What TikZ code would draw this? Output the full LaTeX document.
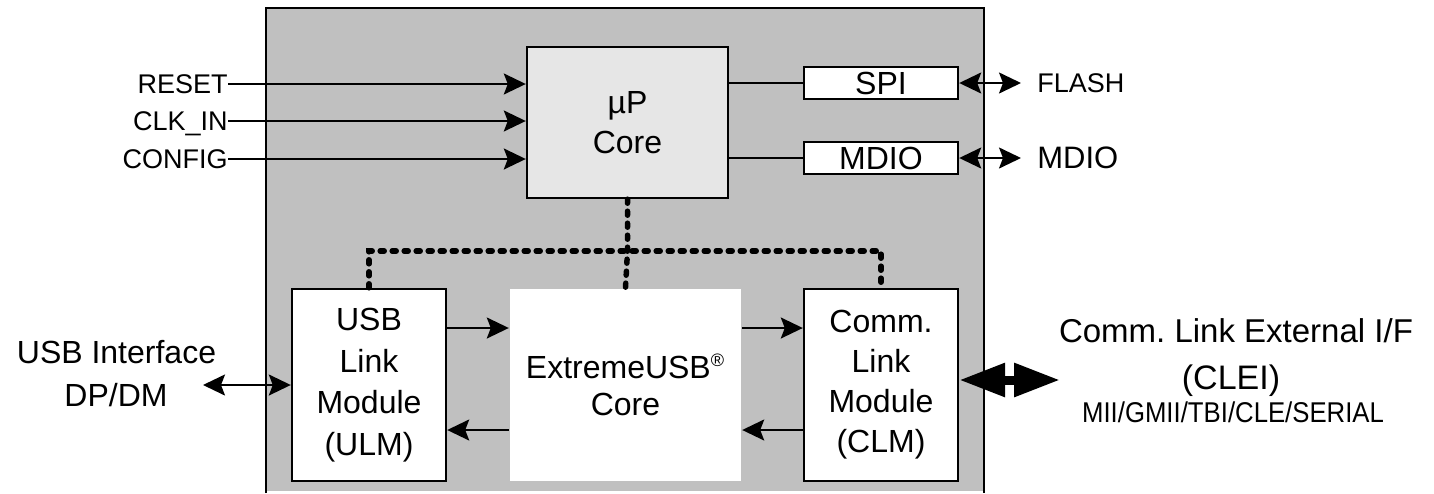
\documentclass[tikz,border=0pt]{standalone}
\usepackage{fontspec}
\setmainfont{Liberation Sans}
\newfontfamily\narrowfont[FakeStretch=0.9]{Liberation Sans}
\usetikzlibrary{arrows.meta}
\definecolor{chipgray}{HTML}{C0C0C0}
\definecolor{coregray}{HTML}{E6E6E6}
\newcommand{\fsz}[2]{\fontsize{#1}{#2}\selectfont}
\frenchspacing
\begin{document}
\begin{tikzpicture}[x=0.5pt,y=-0.5pt,
  box/.style={draw=black, line width=1.2pt, fill=white, inner sep=0pt, align=center},
  lbl/.style={inner sep=0pt, text depth=0pt},
  sig/.style={line width=1pt},
  tip/.style={-{Stealth[length=11pt,width=10.5pt,inset=2pt]}},
  dtip/.style={{Stealth[length=11pt,width=10.5pt,inset=2pt]}-{Stealth[length=11pt,width=10.5pt,inset=2pt]}},
  dotline/.style={line width=2.75pt, line cap=round, dash pattern=on 2pt off 4pt},
  bigarrow/.style={line width=4.5pt, {Triangle[length=23pt,width=16pt]}-{Triangle[length=23pt,width=16pt]}}
]
\useasboundingbox (0,0) rectangle (1434,493);

% chip outline
\fill[chipgray] (266,8) rectangle (984,491);
\draw[line width=1pt] (266,493) -- (266,8) -- (984,8) -- (984,493);

% blocks
\node[box, fill=coregray, minimum width=100.5pt, minimum height=75.5pt, font=\fsz{16}{20}] (up) at (627.5,122.5) {µP\\Core};
\node[box, minimum width=77pt, minimum height=16pt, font=\fsz{16}{18}] (spi) at (881,83) {SPI};
\node[box, minimum width=77pt, minimum height=16pt, font=\fsz{16}{18}] (mdio) at (881,158) {MDIO};
\node[box, minimum width=77pt, minimum height=96pt, font=\fsz{16}{20.8}] (ulm) at (369,385) {USB\\Link\\Module\\(ULM)};
\node[box, draw=none, minimum width=115.5pt, minimum height=96pt, font=\fsz{16}{18.5}] (ext) at (625.5,385) {ExtremeUSB\textsuperscript{\fsz{9}{10}®}\\Core};
\node[box, minimum width=77pt, minimum height=96pt, font=\fsz{16}{20}] (clm) at (881,385) {Comm.\\Link\\Module\\(CLM)};

% left inputs
\node[lbl, anchor=east, font=\fsz{13.5}{16}] (reset) at (228,84) {RESET};
\node[lbl, anchor=east, font=\fsz{13.5}{16}] (clk) at (228,121) {CLK\_IN};
\node[lbl, anchor=east, font=\fsz{13.5}{16}] (config) at (228,159) {CONFIG};
\draw[sig,tip] (reset.east) -- (reset.east -| up.west);
\draw[sig,tip] (clk.east) -- (clk.east -| up.west);
\draw[sig,tip] (config.east) -- (config.east -| up.west);

% SPI / MDIO
\draw[sig] (up.east |- spi) -- (spi.west);
\draw[sig] (up.east |- mdio) -- (mdio.west);
\node[lbl, anchor=west, font=\fsz{13.5}{16}] (flash) at (1037,83) {FLASH};
\node[lbl, anchor=west, font=\fsz{15.5}{18}] (mdioext) at (1037,158) {MDIO};
\draw[sig,dtip,shorten >=8pt] (spi.east) -- (flash.west);
\draw[sig,dtip,shorten >=8pt] (mdio.east) -- (mdioext.west);

% internal bus (dotted)
\coordinate (bus) at (627.5,251);
\draw[dotline] (up.south) -- (bus) -- (ext.north);
\draw[dotline] (ulm.north) -- (ulm.north |- bus) -- (clm.north |- bus) -- (clm.north);

% data paths
\draw[sig,tip] ([yshift=28.5pt]ulm.east) -- ([yshift=28.5pt]ext.west);
\draw[sig,tip] ([yshift=-22.5pt]ext.west) -- ([yshift=-22.5pt]ulm.east);
\draw[sig,tip] ([yshift=28.5pt]ext.east) -- ([yshift=28.5pt]clm.west);
\draw[sig,tip] ([yshift=-22.5pt]clm.west) -- ([yshift=-22.5pt]ext.east);

% USB interface
\node[lbl, anchor=base, font=\fsz{16}{18}] (usbif) at (116.5,363.5) {USB Interface};
\node[lbl, anchor=base, font=\fsz{16}{18}] (dpdm) at (116,406.5) {DP/DM};
\coordinate (usbend) at (203,385);
\draw[sig,dtip] (usbend) -- (ulm.west);

% Comm link external interface
\node[lbl, anchor=base, font=\fsz{16.5}{19}] (clei1) at (1236,342) {Comm. Link External I/F};
\node[lbl, anchor=base, font=\fsz{17}{19}] (clei2) at (1231,389) {(CLEI)};
\node[lbl, anchor=base, font=\narrowfont\fsz{14.3}{16}] (clei3) at (1233,422) {MII/GMII/TBI/CLE/SERIAL};
\coordinate (cleiend) at (1060,380);
\draw[bigarrow] ([yshift=2.5pt]clm.east) -- (cleiend);
\end{tikzpicture}
\end{document}
